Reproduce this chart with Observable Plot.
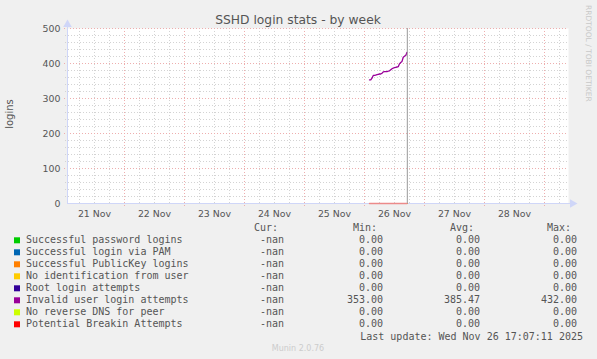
<!DOCTYPE html>
<html><head><meta charset="utf-8">
<script src="https://cdn.jsdelivr.net/npm/d3@7"></script>
<script src="https://cdn.jsdelivr.net/npm/@observablehq/plot@0.6"></script>
<style>
body{margin:0;background:#f0f0f0;}
#wrap{position:relative;width:597px;height:359px;background:#f0f0f0;overflow:hidden;}
#wrap svg{position:absolute;left:0;top:0;}
</style></head><body><div id="wrap"></div>
<script>
const title = "SSHD login stats - by week";
const yLabel = "logins";
const watermark = "RRDTOOL / TOBI OETIKER";
const footer = "Munin 2.0.76";
const lastUpdateText = "Last update: Wed Nov 26 17:07:11 2025";
const lastUpdate = "2025-11-26T17:07:11Z";

const seriesNames = ["Successful password logins","Successful login via PAM","Successful PublicKey logins","No identification from user","Root login attempts","Invalid user login attempts","No reverse DNS for peer","Potential Breakin Attempts"];
const seriesColors = ["#00CC00","#0066B3","#FF8000","#FFCC00","#330099","#990099","#CCFF00","#FF0000"];
const curValues = ["-nan","-nan","-nan","-nan","-nan","-nan","-nan","-nan"];
const minValues = ["0.00","0.00","0.00","0.00","0.00","353.00","0.00","0.00"];
const avgValues = ["0.00","0.00","0.00","0.00","0.00","385.47","0.00","0.00"];
const maxValues = ["0.00","0.00","0.00","0.00","0.00","432.00","0.00","0.00"];

const sampleTimes = ["02:00","02:30","03:00","03:30","04:00","04:30","05:00","05:30","06:00","06:30","07:00","07:30","08:00","08:30","09:00","09:30","10:00","10:30","11:00","11:30","12:00","12:30","13:00","13:30","14:00","14:30","15:00","15:30","16:00","16:30","17:00"];
const invalidUserValues = [353,353,358,366,366,367,368,369,370,370,372,376,377,377,377,378,379,382,385,387,388,389,390,391,399,403,406,418,421,423,432];
const otherValues = [0,0,0,0,0,0,0,0,0,0,0,0,0,0,0,0,0,0,0,0,0,0,0,0,0,0,0,0,0,0,0];

const dayLabels = ["21 Nov","22 Nov","23 Nov","24 Nov","25 Nov","26 Nov","27 Nov","28 Nov"];
const dayLabelDates = ["2025-11-21T12:00:00Z","2025-11-22T12:00:00Z","2025-11-23T12:00:00Z","2025-11-24T12:00:00Z","2025-11-25T12:00:00Z","2025-11-26T12:00:00Z","2025-11-27T12:00:00Z","2025-11-28T12:00:00Z"];
const yTicks = [0,100,200,300,400,500];
const xDomain = ["2025-11-21T01:12:00Z","2025-11-29T09:36:00Z"];

const t0 = new Date(xDomain[0]), t1 = new Date(xDomain[1]);
const labelMap = new Map(dayLabelDates.map((d,i)=>[+new Date(d), dayLabels[i]]));
const dayStarts = d3.utcDay.range(d3.utcDay.ceil(t0), t1);
const sixHours = d3.utcHour.every(6).range(t0, t1).filter(d => d.getUTCHours() !== 0);
const yMinor = d3.range(0, 501, 20).filter(v => v % 100 !== 0);

const rows = [];
seriesNames.forEach((s, si) => {
  const vals = si === 5 ? invalidUserValues : otherValues;
  sampleTimes.forEach((t, i) => rows.push({series: s, time: new Date("2025-11-26T" + t + ":00Z"), value: vals[i]}));
});
const mainSeries = seriesNames[5];
const topSeries = seriesNames[7];

const axisColor = "#cfd6f8";
const minorGrid = {stroke: "#d3d3d3", strokeDasharray: "1,2"};
const majorGrid = {stroke: "#eeaeae", strokeDasharray: "1,2"};
const chart = Plot.plot({
  width: 597, height: 225,
  marginLeft: 67, marginRight: 29, marginTop: 28, marginBottom: 22,
  style: {background: "transparent", fontFamily: "DejaVu Sans", fontSize: "9.4px", color: "#555", overflow: "visible"},
  x: {type: "utc", domain: [t0, t1]},
  y: {domain: [0, 500]},
  color: {domain: seriesNames, range: seriesColors},
  marks: [
    Plot.frame({fill: "white", stroke: null}),
    Plot.ruleX(sixHours, {...minorGrid, insetBottom: -2}),
    Plot.ruleY(yMinor, {...minorGrid, insetLeft: -2}),
    Plot.ruleX(dayStarts, {...majorGrid, insetBottom: -3}),
    Plot.ruleY(yTicks.filter(v => v > 0), {...majorGrid, insetLeft: -3}),
    Plot.ruleY([0], {stroke: axisColor, insetRight: -3}),
    Plot.ruleX([t0], {stroke: axisColor, insetTop: -3}),
    Plot.dot([{x: t1, y: 0}], {x: "x", y: "y", dx: 4, symbol: "triangle", rotate: 90, r: 3.2, fill: axisColor, stroke: null}),
    Plot.dot([{x: t0, y: 500}], {x: "x", y: "y", dy: -4, symbol: "triangle", r: 3.2, fill: axisColor, stroke: null}),
    Plot.line(rows.filter(d => d.series !== mainSeries && d.series !== topSeries), {x: "time", y: "value", z: "series", stroke: "series", strokeWidth: 1}),
    Plot.line(rows.filter(d => d.series === mainSeries), {x: "time", y: "value", stroke: "series", strokeWidth: 1.3}),
    Plot.line(rows.filter(d => d.series === topSeries), {x: "time", y: "value", stroke: "#ec8a8a", strokeWidth: 1.5}),
    Plot.ruleX([new Date(lastUpdate)], {stroke: "#999"}),
    Plot.axisX(dayLabelDates.map(d => new Date(d)), {tickSize: 0, tickPadding: 6.5, tickFormat: d => labelMap.get(+d), label: null, fill: "#555"}),
    Plot.axisY(yTicks, {tickSize: 0, tickPadding: 7, label: null, fill: "#555"})
  ]
});
const wrap = document.getElementById("wrap");
wrap.appendChild(chart);

const svg = d3.select(wrap).append("svg").attr("width", 597).attr("height", 359).style("pointer-events", "none");
svg.append("text").attr("x", 298).attr("y", 24).attr("text-anchor", "middle")
  .attr("font-family", "DejaVu Sans").attr("font-size", 12.3).attr("fill", "#555").text(title);
svg.append("text").attr("transform", "translate(12.5,114) rotate(-90)").attr("text-anchor", "middle")
  .attr("font-family", "DejaVu Sans").attr("font-size", 10).attr("fill", "#555").text(yLabel);
svg.append("text").attr("transform", "translate(585.5,5) rotate(90)").attr("text-anchor", "start")
  .attr("font-family", "DejaVu Sans").attr("font-size", 7.5).attr("fill", "#c8c8c8").text(watermark);
svg.append("text").attr("x", 298).attr("y", 351).attr("text-anchor", "middle")
  .attr("font-family", "DejaVu Sans").attr("font-size", 8).attr("fill", "#cccccc").text(footer);

const mono = {family: "DejaVu Sans Mono", size: 10, fill: "#555"};
const cols = [{h: "Cur:", vals: curValues, x: 284}, {h: "Min:", vals: minValues, x: 383}, {h: "Avg:", vals: avgValues, x: 480}, {h: "Max:", vals: maxValues, x: 577}];
function mt(x, y, s, anchor) {
  svg.append("text").attr("x", x).attr("y", y).attr("text-anchor", anchor || "start")
    .attr("font-family", mono.family).attr("font-size", mono.size).attr("fill", mono.fill)
    .attr("xml:space", "preserve").style("white-space", "pre").text(s);
}
cols.forEach(c => mt(c.x - 6, 231.3, c.h, "end"));
seriesNames.forEach((s, i) => {
  const by = 243.3 + 12 * i;
  svg.append("rect").attr("x", 14).attr("y", by - 6).attr("width", 6).attr("height", 6).attr("fill", seriesColors[i]);
  mt(26, by, s);
  cols.forEach(c => mt(c.x, by, c.vals[i], "end"));
});
mt(583, 339.5, lastUpdateText, "end");
</script></body></html>
